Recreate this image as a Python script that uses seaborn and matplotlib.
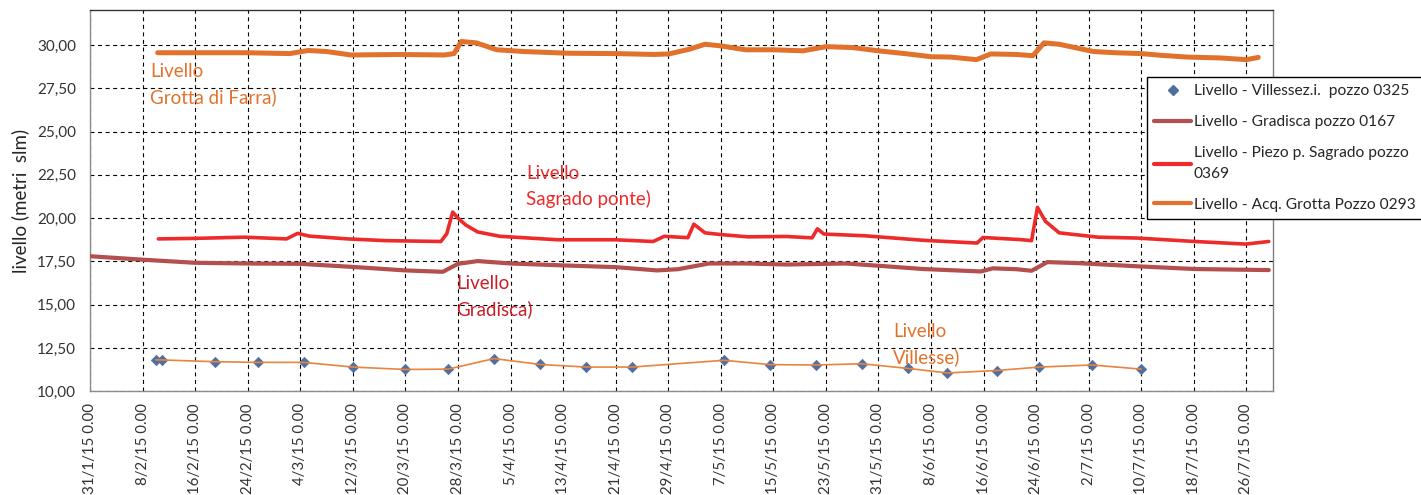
import numpy as np
import pandas as pd
import matplotlib
matplotlib.use("Agg")
import matplotlib.pyplot as plt
import matplotlib.dates as mdates
from matplotlib.lines import Line2D
from matplotlib.ticker import FuncFormatter, MultipleLocator
import seaborn as sns

# ---------------- data (days after 31/1/2015, level in m slm) ----------------
start_date = "2015-01-31"

grotta_days = [10.3, 16, 23.9, 30.4, 33.2, 36, 39.7, 47, 53.9, 55.4, 56.5, 58.8, 61.9, 66,
               72.9, 80, 85.8, 88.1, 91.3, 93.6, 95.9, 99.8, 104, 108.5, 112, 116, 120, 124,
               128, 131, 134.9, 137.1, 141, 143.5, 145.2, 147.5, 152.7, 156, 160, 163, 167,
               172, 176, 177.8]
grotta_vals = [29.55, 29.55, 29.55, 29.50, 29.68, 29.62, 29.42, 29.45, 29.42, 29.50, 30.20,
               30.12, 29.72, 29.62, 29.52, 29.50, 29.45, 29.48, 29.76, 30.04, 29.95, 29.72,
               29.72, 29.66, 29.90, 29.85, 29.66, 29.50, 29.32, 29.30, 29.15, 29.48, 29.45,
               29.38, 30.12, 30.04, 29.62, 29.55, 29.50, 29.40, 29.30, 29.25, 29.15, 29.28]

sagrado_days = [10.4, 16, 23.5, 29.9, 31.6, 33.4, 39.2, 45, 53.4, 54.3, 55.2, 56, 57.2, 59,
                62.4, 71.2, 79.9, 85.7, 87.4, 91, 91.9, 93.6, 96, 100.1, 106, 109.9, 110.7,
                111.7, 117.9, 126.8, 135, 135.9, 141.6, 143.3, 144.2, 145.4, 147.5, 153.4,
                159.3, 168.2, 175.9, 179.4]
sagrado_vals = [18.80, 18.83, 18.90, 18.80, 19.12, 18.96, 18.80, 18.70, 18.65, 19.10, 20.35,
                20.00, 19.60, 19.20, 18.95, 18.75, 18.75, 18.65, 18.95, 18.87, 19.65, 19.15,
                19.05, 18.92, 18.94, 18.86, 19.38, 19.08, 18.98, 18.72, 18.56, 18.88, 18.76,
                18.70, 20.62, 19.82, 19.15, 18.90, 18.85, 18.65, 18.50, 18.65]

gradisca_days = [0, 8, 16, 24.1, 32, 40.1, 48, 53.7, 56, 59, 64, 72, 80, 86.3, 89.5, 94.2,
                 100, 106, 115, 120, 126.8, 135.6, 137.4, 141, 143.3, 145.7, 150.4, 159.3,
                 168.2, 179.4]
gradisca_vals = [17.80, 17.60, 17.42, 17.38, 17.36, 17.18, 16.98, 16.90, 17.36, 17.52, 17.38,
                 17.27, 17.17, 16.98, 17.05, 17.38, 17.38, 17.32, 17.38, 17.25, 17.06, 16.92,
                 17.10, 17.05, 16.96, 17.46, 17.40, 17.22, 17.06, 17.00]

villesse_days = [10, 11, 19, 25.5, 32.5, 40, 48, 54.5, 61.5, 68.5, 75.5, 82.5, 96.5, 103.5,
                 110.5, 117.5, 124.5, 130.5, 138, 144.5, 152.5, 160]
villesse_vals = [11.81, 11.81, 11.71, 11.67, 11.67, 11.40, 11.26, 11.28, 11.89, 11.55, 11.40,
                 11.40, 11.79, 11.54, 11.52, 11.59, 11.32, 11.06, 11.20, 11.40, 11.52, 11.28]

legend_labels = ["Livello - Villessez.i.  pozzo 0325",
                 "Livello - Gradisca pozzo 0167",
                 "Livello - Piezo p. Sagrado pozzo\n0369",
                 "Livello - Acq. Grotta Pozzo 0293"]
y_label = "livello (metri  slm)"

# ---------------- styling ----------------
c_grotta = "#E2722B"
c_sagrado = "#EE2B2B"
c_gradisca = "#B34F4D"
c_villesse_line = "#E8843E"
c_villesse_mark = "#4F6FA0"
c_gradisca_txt = "#C8202A"

sns.set_theme(style="white")
plt.rcParams["font.family"] = ["Lato", "DejaVu Sans"]

def frame(days, vals):
    d = pd.Timestamp(start_date) + pd.to_timedelta(days, unit="D")
    return pd.DataFrame({"date": d, "value": vals})

df_grotta = frame(grotta_days, grotta_vals)
df_sagrado = frame(sagrado_days, sagrado_vals)
df_gradisca = frame(gradisca_days, gradisca_vals)
df_villesse = frame(villesse_days, villesse_vals)

W, H = 1421, 495
fig = plt.figure(figsize=(W / 100, H / 100), dpi=100)
L, R, T, B = 90, 1272.7, 10.3, 391.3
ax = fig.add_axes([L / W, 1 - B / H, (R - L) / W, (B - T) / H])

sns.scatterplot(data=df_villesse, x="date", y="value", marker="D", s=28,
                color=c_villesse_mark, edgecolor=c_villesse_mark, linewidth=0.5,
                ax=ax, zorder=3)
sns.lineplot(data=df_villesse, x="date", y="value", color=c_villesse_line, lw=1.2,
             ax=ax, zorder=4)
sns.lineplot(data=df_gradisca, x="date", y="value", color=c_gradisca, lw=3.0, ax=ax, zorder=3)
sns.lineplot(data=df_sagrado, x="date", y="value", color=c_sagrado, lw=2.6, ax=ax, zorder=3)
sns.lineplot(data=df_grotta, x="date", y="value", color=c_grotta, lw=3.6, ax=ax, zorder=3)

# axes limits & ticks
ax.set_xlim(pd.Timestamp("2015-01-31"), pd.Timestamp("2015-07-30"))
ax.set_ylim(10, 32)
xt = pd.date_range("2015-01-31", "2015-07-26", freq="8D")
ax.set_xticks(xt)
ax.xaxis.set_major_formatter(FuncFormatter(
    lambda v, p: (lambda d: f"{d.day}/{d.month}/{d:%y} 0.00")(mdates.num2date(v))))
ax.yaxis.set_major_locator(MultipleLocator(2.5))
ax.yaxis.set_major_formatter(FuncFormatter(lambda v, p: f"{v:.2f}".replace(".", ",")))
ax.set_xlabel("")
ax.set_ylabel(y_label, fontsize=13.5, color="#262626", labelpad=6)

ax.grid(True, color="black", linestyle=(0, (3.6, 3.2)), linewidth=0.8)
ax.set_axisbelow(True)
ax.tick_params(axis="x", direction="inout", length=7, width=1, color="#8c8c8c",
               labelsize=10.8, labelcolor="#333333", rotation=90, pad=5)
ax.tick_params(axis="y", direction="inout", length=8, width=1, color="#8c8c8c",
               labelsize=11, labelcolor="#333333", pad=6)
for s in ["left", "bottom"]:
    ax.spines[s].set_color("#8c8c8c")
ax.spines["top"].set_color("#333333")
ax.spines["right"].set_color("#7f7f7f")
for s in ax.spines.values():
    s.set_linewidth(1)

# annotations
def ax_frac(px, py):
    return (px - L) / (R - L), 1 - (py - T) / (B - T)

for (px, py), txt, col in [((150, 63), "Livello\nGrotta di Farra)", c_grotta),
                           ((526, 165), "Livello\nSagrado ponte)", c_sagrado),
                           ((456, 275), "Livello\nGradisca)", c_gradisca_txt),
                           ((893, 323), "Livello\nVillesse)", c_grotta)]:
    fx, fy = ax_frac(px, py)
    ax.text(fx, fy, txt, transform=ax.transAxes, color=col, fontsize=13.5,
            va="top", ha="left", linespacing=1.55, zorder=6)

# legend
handles = [Line2D([], [], marker="D", color=c_villesse_mark, markersize=5, linestyle="none",
                  markerfacecolor=c_villesse_mark),
           Line2D([], [], color=c_gradisca, lw=3),
           Line2D([], [], color=c_sagrado, lw=3),
           Line2D([], [], color=c_grotta, lw=3)]
leg = ax.legend(handles, legend_labels, loc="upper left",
                bbox_to_anchor=(1147 / W, 1 - 77 / H), bbox_transform=fig.transFigure,
                frameon=True, fancybox=False, edgecolor="black", framealpha=1,
                borderaxespad=0, borderpad=0.45, labelspacing=1.1, handlelength=2.4,
                handletextpad=0.15, fontsize=11.2)
leg.get_frame().set_linewidth(1)
for t in leg.get_texts():
    t.set_color("#262626")
    t.set_linespacing(1.6)

fig.savefig("out.png", dpi=100)
